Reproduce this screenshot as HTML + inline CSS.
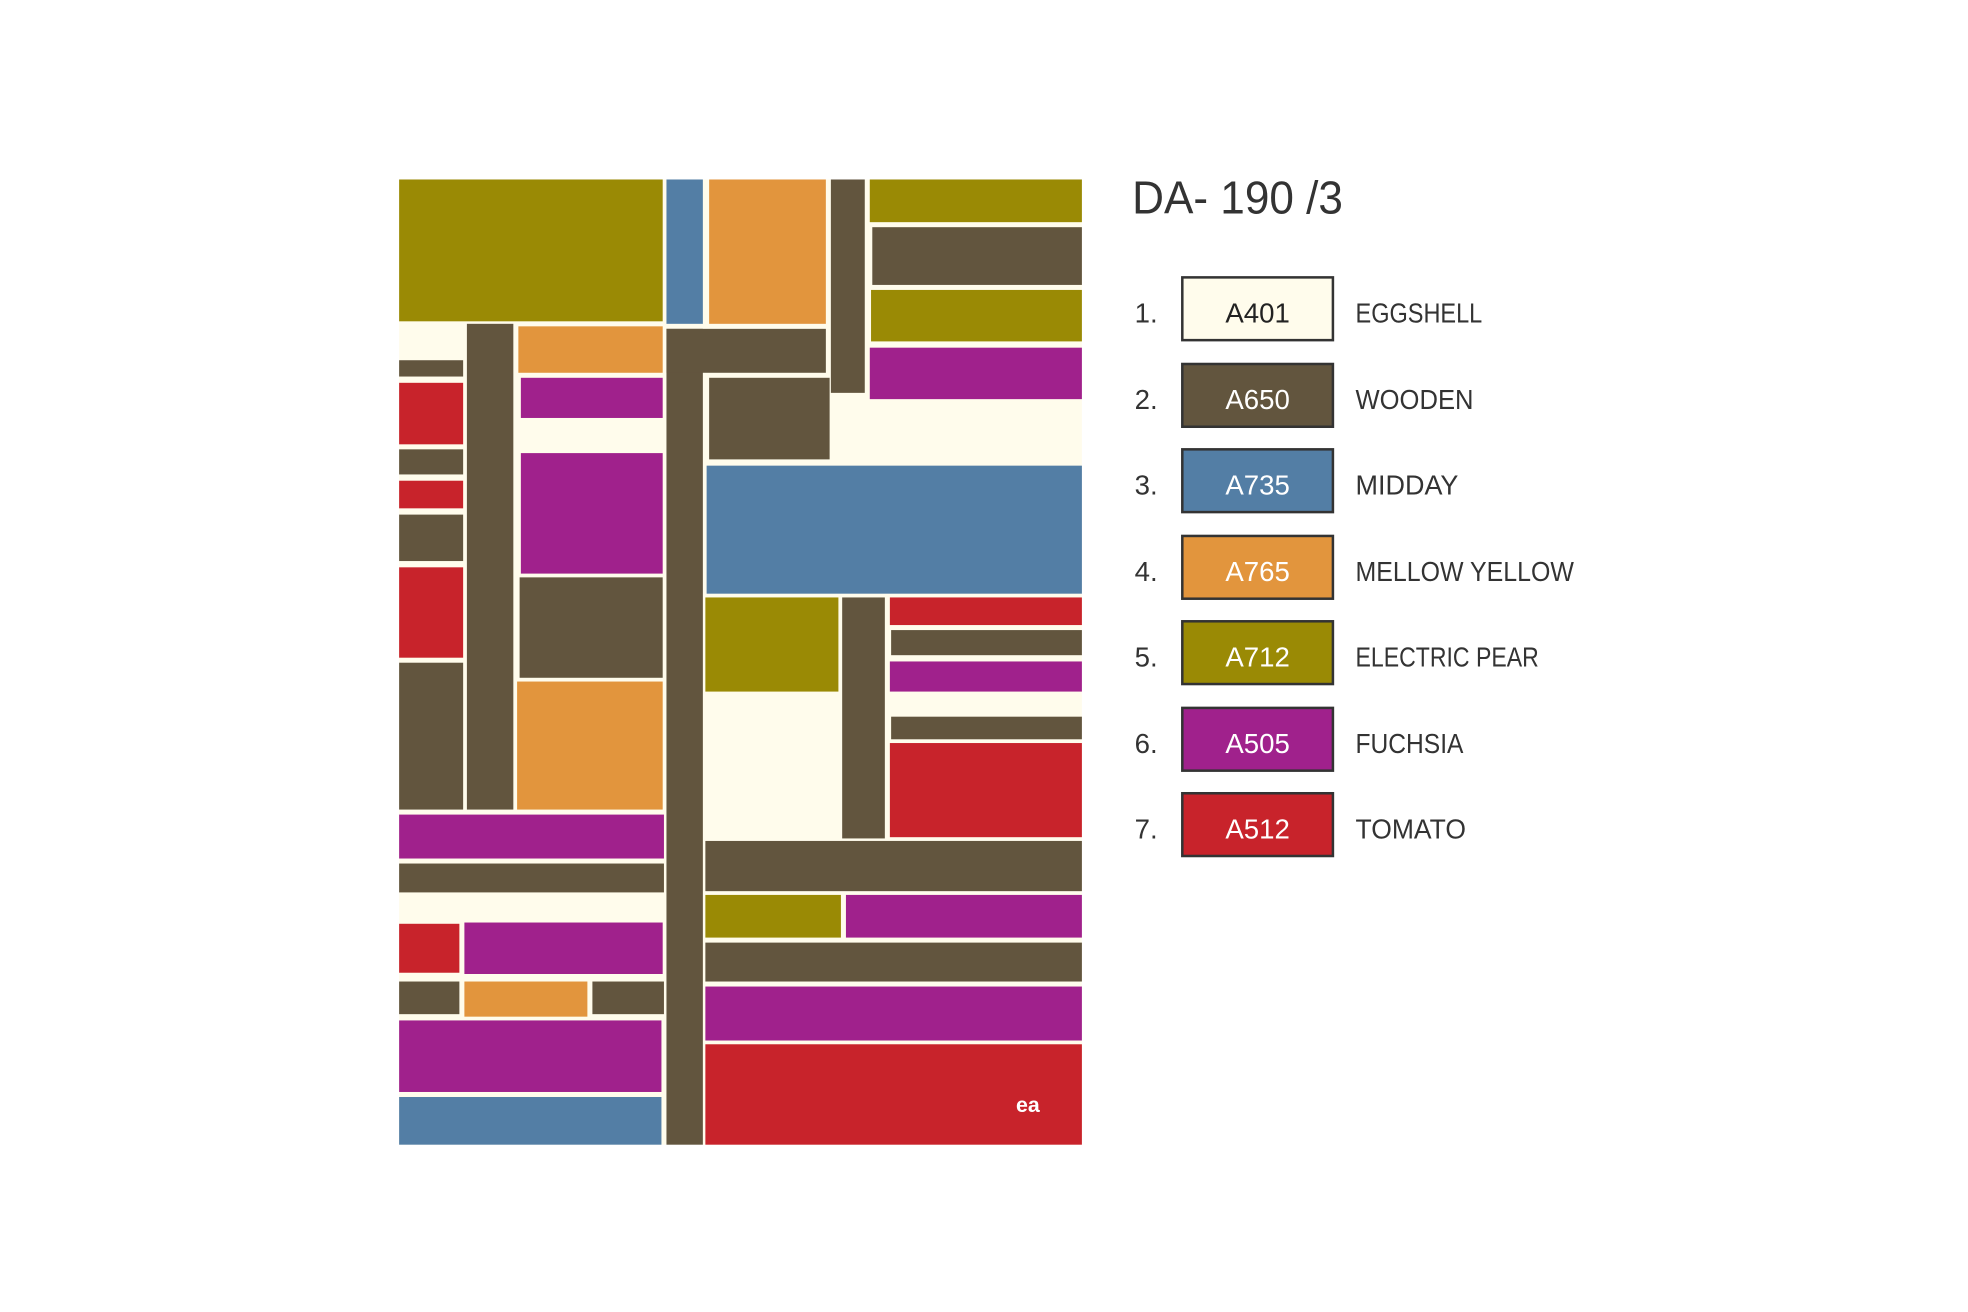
<!DOCTYPE html>
<html><head><meta charset="utf-8"><style>
html,body{margin:0;padding:0;background:#fff;}
svg{display:block}
text{font-family:"Liberation Sans",sans-serif;}
</style></head><body>
<svg width="1968" height="1312" viewBox="0 0 1568 1045.3" preserveAspectRatio="none" xmlns="http://www.w3.org/2000/svg">
<rect x="0" y="0" width="1568" height="1046" fill="#fff"/>
<rect x="318" y="143" width="544" height="769" fill="#fffcec"/>
<g>
<!-- top -->
<rect x="318" y="143" width="210" height="113" fill="#9a8a05"/>
<rect x="531" y="143" width="29" height="115" fill="#537ea5"/>
<rect x="565" y="143" width="93" height="115" fill="#e2953d"/>
<rect x="662" y="143" width="27" height="170" fill="#62553e"/>
<rect x="693" y="143" width="169" height="34" fill="#9a8a05"/>
<rect x="695" y="181" width="167" height="46" fill="#62553e"/>
<rect x="694" y="231" width="168" height="41" fill="#9a8a05"/>
<rect x="693" y="277" width="169" height="41" fill="#a0218c"/>
<!-- left -->
<rect x="372" y="258" width="37" height="387" fill="#62553e"/>
<rect x="318" y="287" width="51" height="13" fill="#62553e"/>
<rect x="318" y="305" width="51" height="49" fill="#c8232b"/>
<rect x="318" y="358" width="51" height="20" fill="#62553e"/>
<rect x="318" y="383" width="51" height="22" fill="#c8232b"/>
<rect x="318" y="410" width="51" height="37" fill="#62553e"/>
<rect x="318" y="452" width="51" height="72" fill="#c8232b"/>
<rect x="318" y="528" width="51" height="117" fill="#62553e"/>
<rect x="413" y="260" width="115" height="37" fill="#e2953d"/>
<rect x="415" y="301" width="113" height="32" fill="#a0218c"/>
<rect x="415" y="361" width="113" height="96" fill="#a0218c"/>
<rect x="414" y="460" width="114" height="80" fill="#62553e"/>
<rect x="412" y="543" width="116" height="102" fill="#e2953d"/>
<rect x="318" y="649" width="211" height="35" fill="#a0218c"/>
<rect x="318" y="688" width="211" height="23" fill="#62553e"/>
<rect x="318" y="736" width="48" height="39" fill="#c8232b"/>
<rect x="370" y="735" width="158" height="41" fill="#a0218c"/>
<rect x="318" y="782" width="48" height="26" fill="#62553e"/>
<rect x="370" y="782" width="98" height="28" fill="#e2953d"/>
<rect x="472" y="782" width="57" height="26" fill="#62553e"/>
<rect x="318" y="813" width="209" height="57" fill="#a0218c"/>
<rect x="318" y="874" width="209" height="38" fill="#537ea5"/>
<!-- center/right -->
<rect x="531" y="262" width="29" height="650" fill="#62553e"/>
<rect x="531" y="262" width="127" height="35" fill="#62553e"/>
<rect x="565" y="301" width="96" height="65" fill="#62553e"/>
<rect x="563" y="371" width="299" height="102" fill="#537ea5"/>
<rect x="562" y="476" width="106" height="75" fill="#9a8a05"/>
<rect x="671" y="476" width="34" height="192" fill="#62553e"/>
<rect x="709" y="476" width="153" height="22" fill="#c8232b"/>
<rect x="710" y="502" width="152" height="20" fill="#62553e"/>
<rect x="709" y="527" width="153" height="24" fill="#a0218c"/>
<rect x="710" y="571" width="152" height="18" fill="#62553e"/>
<rect x="709" y="592" width="153" height="75" fill="#c8232b"/>
<rect x="562" y="670" width="300" height="40" fill="#62553e"/>
<rect x="562" y="713" width="108" height="34" fill="#9a8a05"/>
<rect x="674" y="713" width="188" height="34" fill="#a0218c"/>
<rect x="562" y="751" width="300" height="31" fill="#62553e"/>
<rect x="562" y="786" width="300" height="43" fill="#a0218c"/>
<rect x="562" y="832" width="300" height="80" fill="#c8232b"/>
<text x="819" y="886" font-size="17" font-weight="bold" fill="#fff" text-anchor="middle">ea</text>
</g>
<!-- legend -->
<text x="902" y="170" font-size="37" fill="#333" textLength="168" lengthAdjust="spacingAndGlyphs">DA- 190 /3</text>
<g font-size="22" fill="#333">
<text x="904" y="257">1.</text>
<text x="904" y="326">2.</text>
<text x="904" y="394">3.</text>
<text x="904" y="463">4.</text>
<text x="904" y="531">5.</text>
<text x="904" y="600">6.</text>
<text x="904" y="668">7.</text>
</g>
<g stroke="#333" stroke-width="2">
<rect x="942" y="221" width="120" height="50" fill="#fffcec"/>
<rect x="942" y="290" width="120" height="50" fill="#62553e"/>
<rect x="942" y="358" width="120" height="50" fill="#537ea5"/>
<rect x="942" y="427" width="120" height="50" fill="#e2953d"/>
<rect x="942" y="495" width="120" height="50" fill="#9a8a05"/>
<rect x="942" y="564" width="120" height="50" fill="#a0218c"/>
<rect x="942" y="632" width="120" height="50" fill="#c8232b"/>
</g>
<g font-size="22" text-anchor="middle">
<text x="1002" y="257" fill="#222">A401</text>
<text x="1002" y="326" fill="#fff">A650</text>
<text x="1002" y="394" fill="#fff">A735</text>
<text x="1002" y="463" fill="#fff">A765</text>
<text x="1002" y="531" fill="#fff">A712</text>
<text x="1002" y="600" fill="#fff">A505</text>
<text x="1002" y="668" fill="#fff">A512</text>
</g>
<g font-size="22" fill="#333">
<text x="1080" y="257" textLength="101" lengthAdjust="spacingAndGlyphs">EGGSHELL</text>
<text x="1080" y="326" textLength="94" lengthAdjust="spacingAndGlyphs">WOODEN</text>
<text x="1080" y="394" textLength="82" lengthAdjust="spacingAndGlyphs">MIDDAY</text>
<text x="1080" y="463" textLength="174" lengthAdjust="spacingAndGlyphs">MELLOW YELLOW</text>
<text x="1080" y="531" textLength="146" lengthAdjust="spacingAndGlyphs">ELECTRIC PEAR</text>
<text x="1080" y="600" textLength="86" lengthAdjust="spacingAndGlyphs">FUCHSIA</text>
<text x="1080" y="668" textLength="88" lengthAdjust="spacingAndGlyphs">TOMATO</text>
</g>
</svg>
</body></html>
